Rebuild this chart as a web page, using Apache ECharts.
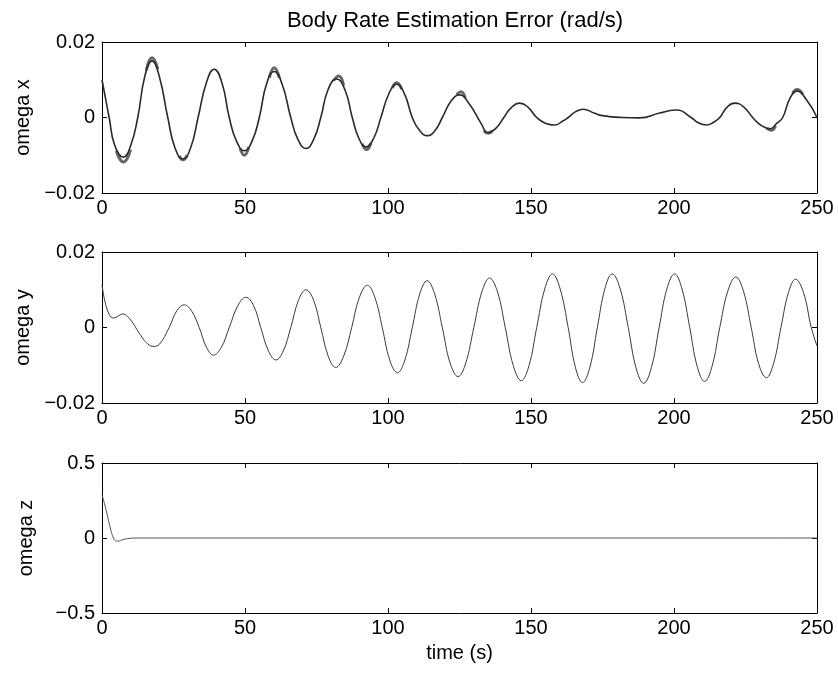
<!DOCTYPE html>
<html>
<head>
<meta charset="utf-8">
<script src="https://cdn.jsdelivr.net/npm/echarts@6/dist/echarts.min.js"></script>
<style>
html,body{margin:0;padding:0;background:#fff;}
#chart{width:838px;height:673px;}
</style>
</head>
<body>
<div id="chart"></div>
<script>
// ---- data ----
const xTicks = [0, 50, 100, 150, 200, 250];

const tX = [0, 1, 2.5, 4.5, 7.5, 10, 12.5, 15, 17.5, 20, 23, 25.5, 28.3, 31, 33.6, 36.5, 39.2, 42, 44.5, 47, 49.8, 52.5, 55, 57.5, 60.2, 63, 66, 68.5, 71.3, 74, 76.5, 79, 82, 85, 87.5, 89.8, 92.3, 95, 97.5, 100.3, 103, 105.8, 108.5, 111, 113.8, 116.5, 119, 122, 125, 128.5, 132.5, 135, 137.8, 140.5, 143.2, 146, 149, 152, 155, 158.3, 161, 163, 165.5, 168.3, 172, 175, 182, 188, 195, 201, 206, 208.5, 211.3, 214, 216, 218.5, 221.3, 224.5, 227.5, 230.5, 233.5, 236, 238, 240.5, 243, 246.5, 250];
const omegaX = [0.0100, 0.0060, 0.0000, -0.0075, -0.0105, -0.0075, 0.0000, 0.0110, 0.0150, 0.0110, 0.0000, -0.0080, -0.0110, -0.0080, 0.0000, 0.0092, 0.0128, 0.0090, 0.0000, -0.0062, -0.0088, -0.0062, 0.0000, 0.0088, 0.0122, 0.0088, 0.0000, -0.0058, -0.0082, -0.0058, 0.0000, 0.0073, 0.0102, 0.0072, 0.0000, -0.0055, -0.0078, -0.0055, 0.0000, 0.0063, 0.0088, 0.0062, 0.0000, -0.0034, -0.0048, -0.0034, 0.0000, 0.0043, 0.0060, 0.0035, -0.0015, -0.0040, -0.0028, 0.0000, 0.0027, 0.0038, 0.0027, 0.0000, -0.0015, -0.0020, -0.0010, 0.0000, 0.0015, 0.0022, 0.0012, 0.0005, 0.0000, -0.0001, 0.0012, 0.0020, 0.0000, -0.0014, -0.0020, -0.0012, 0.0000, 0.0027, 0.0038, 0.0027, 0.0000, -0.0021, -0.0030, -0.0015, 0.0000, 0.0050, 0.0070, 0.0045, 0.0000];

// thick noisy band segments in omega x (null separates segments)
const bandT = [5, 7.5, 10, 10, 15.5, 17.5, 19.5, 19.5, 27, 28.3, 29.8, 29.8, 48.3, 49.8, 51.3, 51.3, 58.5, 60.2, 62, 62, 81, 82.8, 84.5, 84.5, 91, 92.5, 94, 94, 101.5, 103, 104.8, 104.8, 124, 125.5, 127, 127, 133.5, 135, 136.5, 136.5, 232.5, 234, 235.5, 235.5, 241.5, 243, 245];
const bandV = [-0.0088, -0.0118, -0.0085, null, 0.0125, 0.0158, 0.0128, null, -0.0102, -0.0112, -0.0100, null, -0.0082, -0.0100, -0.0078, null, 0.0105, 0.0132, 0.0105, null, 0.0098, 0.0110, 0.0085, null, -0.0070, -0.0085, -0.0068, null, 0.0078, 0.0092, 0.0075, null, 0.0060, 0.0068, 0.0052, null, -0.0035, -0.0042, -0.0035, null, -0.0028, -0.0034, -0.0022, null, 0.0064, 0.0074, 0.0062];

const tY = [0, 1, 2.5, 4, 7.3, 10, 13, 15.5, 17.8, 20, 23.5, 26.2, 28.8, 31.4, 34, 36.5, 39, 41.7, 44.5, 47.5, 50.3, 53, 55.5, 58.2, 60.8, 63.4, 66, 68.7, 71.3, 74, 76.5, 79.1, 81.7, 84.5, 87.3, 90, 92.8, 95.4, 98, 100.6, 103.3, 105.9, 108.5, 111.1, 113.7, 116.3, 119, 121.7, 124.5, 127.2, 130, 132.8, 135.5, 138.3, 141, 143.8, 146.6, 149.3, 152, 154.8, 157.5, 160.2, 163, 165.5, 168, 170.6, 173.2, 175.8, 178.4, 181.2, 184, 186.7, 189.4, 192.1, 194.8, 197.5, 200.2, 202.8, 205.5, 208.1, 210.7, 213.3, 216, 218.8, 221.6, 224.3, 227, 229.6, 232.3, 234.8, 237.4, 240, 242.5, 245.3, 248, 250];
const omegaY = [0.0113, 0.0070, 0.0035, 0.0025, 0.0036, 0.0020, -0.0015, -0.0040, -0.0050, -0.0045, 0.0000, 0.0045, 0.0060, 0.0043, 0.0000, -0.0052, -0.0073, -0.0053, 0.0000, 0.0058, 0.0080, 0.0058, 0.0000, -0.0062, -0.0086, -0.0062, 0.0000, 0.0072, 0.0100, 0.0072, 0.0000, -0.0076, -0.0106, -0.0076, 0.0000, 0.0080, 0.0112, 0.0080, 0.0000, -0.0086, -0.0120, -0.0086, 0.0000, 0.0089, 0.0124, 0.0089, 0.0000, -0.0094, -0.0130, -0.0094, 0.0000, 0.0094, 0.0131, 0.0094, 0.0000, -0.0101, -0.0141, -0.0101, 0.0000, 0.0102, 0.0142, 0.0102, 0.0000, -0.0105, -0.0146, -0.0105, 0.0000, 0.0102, 0.0142, 0.0102, 0.0000, -0.0106, -0.0148, -0.0106, 0.0000, 0.0102, 0.0142, 0.0102, 0.0000, -0.0103, -0.0143, -0.0103, 0.0000, 0.0096, 0.0134, 0.0096, 0.0000, -0.0096, -0.0133, -0.0096, 0.0000, 0.0092, 0.0128, 0.0092, 0.0000, -0.0049];

const tZ = [0, 1, 2, 3, 4, 5, 6, 7, 9, 12, 250];
const omegaZ = [0.29, 0.22, 0.14, 0.06, 0.00, -0.02, -0.02, -0.012, -0.004, 0.0, 0.0];

const yLabels = ['omega x', 'omega y', 'omega z'];
const yRanges = [[-0.02, 0.02, 0.02], [-0.02, 0.02, 0.02], [-0.5, 0.5, 0.5]];
const titleText = 'Body Rate Estimation Error (rad/s)';
const xName = 'time (s)';

// ---- chart ----
const FONT = 'Liberation Sans, Arial, Helvetica, sans-serif';
const grids = [
  {left: 102, right: 21, top: 42, height: 151},
  {left: 102, right: 21, top: 252, height: 151},
  {left: 102, right: 21, top: 463, height: 150}
];
function pairs(t, v) { return t.map((x, i) => [x, v[i]]); }
function fmtY(dec) {
  return function (v) {
    if (Math.abs(v) < 1e-9) return '0';
    return (v < 0 ? '\u2212' : '') + Math.abs(v).toFixed(dec);
  };
}
const xAxes = [], yAxes = [];
grids.forEach((g, i) => {
  xAxes.push({
    type: 'value', gridIndex: i, min: 0, max: 250, interval: 50, position: 'bottom',
    axisLine: {onZero: false, lineStyle: {color: '#000', width: 1}},
    axisTick: {inside: true, length: 5, lineStyle: {color: '#000'}},
    axisLabel: {color: '#000', fontSize: 20, fontFamily: FONT, margin: 5},
    splitLine: {show: false},
    name: i === 2 ? xName : '', nameLocation: 'middle', nameGap: 30,
    nameTextStyle: {color: '#000', fontSize: 20, fontFamily: FONT}
  });
  xAxes.push({
    type: 'value', gridIndex: i, min: 0, max: 250, interval: 50, position: 'top',
    axisLine: {onZero: false, lineStyle: {color: '#000', width: 1}},
    axisTick: {inside: true, length: 5, lineStyle: {color: '#000'}},
    axisLabel: {show: false}, splitLine: {show: false}
  });
  const r = yRanges[i];
  yAxes.push({
    type: 'value', gridIndex: i, min: r[0], max: r[1], interval: r[2], position: 'left',
    axisLine: {show: true, onZero: false, lineStyle: {color: '#000', width: 1}},
    axisTick: {show: true, inside: true, length: 5, lineStyle: {color: '#000'}},
    axisLabel: {color: '#000', fontSize: 20, fontFamily: FONT, margin: 7, formatter: fmtY(i === 2 ? 1 : 2)},
    splitLine: {show: false},
    name: yLabels[i], nameLocation: 'middle', nameGap: 66, nameRotate: 90,
    nameTextStyle: {color: '#000', fontSize: 20, fontFamily: FONT}
  });
  yAxes.push({
    type: 'value', gridIndex: i, min: r[0], max: r[1], interval: r[2], position: 'right',
    axisLine: {show: true, onZero: false, lineStyle: {color: '#000', width: 1}},
    axisTick: {show: true, inside: true, length: 5, lineStyle: {color: '#000'}},
    axisLabel: {show: false}, splitLine: {show: false}
  });
});

const option = {
  backgroundColor: '#fff',
  animation: false,
  title: {
    text: titleText, left: 450, top: 5, textAlign: 'center',
    textStyle: {color: '#000', fontSize: 22, fontWeight: 'normal', fontFamily: FONT}
  },
  grid: grids,
  xAxis: xAxes,
  yAxis: yAxes,
  series: [
    {type: 'line', xAxisIndex: 0, yAxisIndex: 0, data: pairs(tX, omegaX), smooth: 0.5, symbol: 'none',
     lineStyle: {color: '#2a2a2a', width: 1.6}},
    {type: 'line', xAxisIndex: 0, yAxisIndex: 0, data: pairs(bandT, bandV), smooth: 0.5, symbol: 'none',
     connectNulls: false, lineStyle: {color: '#333', width: 3, opacity: 0.75}},
    {type: 'line', xAxisIndex: 2, yAxisIndex: 2, data: pairs(tY, omegaY), smooth: 0.4, symbol: 'none',
     lineStyle: {color: '#3a3a3a', width: 1}},
    {type: 'line', xAxisIndex: 4, yAxisIndex: 4, data: pairs(tZ, omegaZ), smooth: 0.4, symbol: 'none',
     lineStyle: {color: '#555', width: 1}}
  ]
};
const chart = echarts.init(document.getElementById('chart'), null, {renderer: 'canvas'});
chart.setOption(option);
</script>
</body>
</html>
